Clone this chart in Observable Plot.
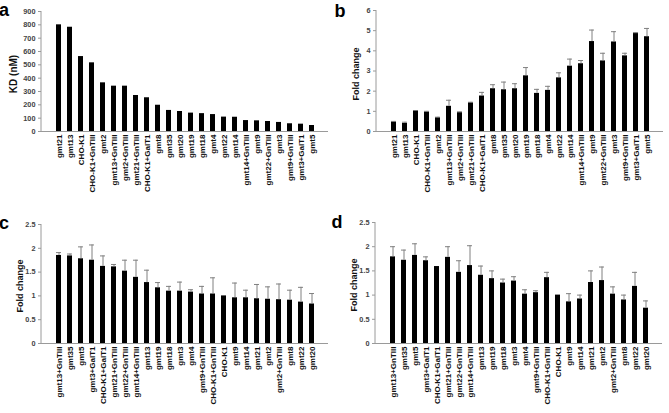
<!DOCTYPE html>
<html><head><meta charset="utf-8">
<script src="https://cdn.jsdelivr.net/npm/d3@7"></script>
<script src="https://cdn.jsdelivr.net/npm/@observablehq/plot@0.6"></script>
<style>
body{margin:0;background:#fff;}
#wrap{position:relative;width:669px;height:413px;overflow:hidden;font-family:"Liberation Sans",Arial,sans-serif;}
.panel{position:absolute;}
</style></head><body><div id="wrap"></div>
<script>
// Panel a: KD (nM)
const catsA = ["gmt21","gmt13","CHO-K1","CHO-K1+GnTIII","gmt2","gmt13+GnTIII","gmt2+GnTIII","gmt21+GnTIII","CHO-K1+GalT1","gmt8","gmt35","gmt20","gmt19","gmt18","gmt4","gmt22","gmt14","gmt14+GnTIII","gmt9","gmt22+GnTIII","gmt3","gmt9+GnTIII","gmt3+GalT1","gmt5"];
const kdA = [800,782,562,515,365,340,340,270,253,197,158,150,138,134,127,108,107,82,80,75,68,58,55,45];
const ticksA = [0,100,200,300,400,500,600,700,800,900];

// Panel b: fold change (same categories as a)
const catsB = catsA;
const foldB = [0.48,0.40,1.02,0.97,0.69,1.25,0.95,1.43,1.76,2.12,2.07,2.12,2.76,1.89,2.04,2.66,3.24,3.36,4.46,3.50,4.44,3.75,4.87,4.70];
const errB  = [0.02,0.06,0,0.03,0.02,0.30,0.02,0.02,0.18,0.20,0.38,0.25,0.41,0.20,0.20,0.25,0.35,0.16,0.57,0.38,0.51,0.13,0.03,0.41];
const ticksB = [0,1,2,3,4,5,6];

// Panels c and d
const catsCD = ["gmt13+GnTIII","gmt35","gmt5","gmt3+GalT1","CHO-K1+GalT1","gmt21+GnTIII","gmt22+GnTIII","gmt14+GnTIII","gmt13","gmt19","gmt18","gmt3","gmt4","gmt9+GnTIII","CHO-K1+GnTIII","CHO-K1","gmt9","gmt14","gmt21","gmt2","gmt2+GnTIII","gmt8","gmt22","gmt20"];
const foldC = [1.85,1.84,1.78,1.75,1.62,1.61,1.52,1.39,1.28,1.17,1.10,1.10,1.08,1.04,1.04,1.00,0.96,0.96,0.94,0.93,0.92,0.91,0.87,0.83];
const errC  = [0.06,0.04,0.25,0.32,0.22,0.05,0.23,0.36,0.26,0.11,0.10,0.19,0.05,0.16,0.34,0,0.31,0.16,0.30,0.26,0.33,0.21,0.31,0.22];
const foldD = [1.79,1.72,1.82,1.71,1.59,1.78,1.47,1.61,1.41,1.34,1.25,1.29,1.02,1.05,1.36,1.00,0.86,0.92,1.26,1.30,1.02,0.90,1.18,0.73];
const errD  = [0.21,0.21,0.24,0.08,0,0.22,0.24,0.41,0.19,0.16,0.08,0.09,0.09,0.04,0.11,0,0.17,0.08,0.24,0.28,0.15,0.10,0.29,0.15];
const ticksCD = [0,0.5,1,1.5,2,2.5];

const wrap = document.getElementById("wrap");

function panel(o) {
  const data = o.cats.map((c, i) => ({c, v: o.values[i], e: o.errs ? o.errs[i] : 0}));
  const marks = [
    Plot.barY(data, {x: "c", y: "v", fill: "#000"}),
    Plot.ruleY([0], {stroke: "#9a9a9a", strokeWidth: 1})
  ];
  if (o.errs) {
    const ed = data.filter(d => d.e > 0);
    marks.push(Plot.ruleX(ed, {x: "c", y1: "v", y2: d => d.v + d.e, stroke: "#808080", strokeWidth: 1}));
    marks.push(Plot.tickY(ed, {x: "c", y: d => d.v + d.e, stroke: "#808080", strokeWidth: 1}));
  }
  marks.push(Plot.axisY({ticks: o.ticks, tickFormat: d => String(d), tickSize: 3, tickPadding: 3, stroke: "#9a9a9a", fill: "#444", fontSize: 7.3, fontWeight: "bold"}));
  marks.push(Plot.axisX({tickRotate: -90, tickSize: 0, tickPadding: 3, fill: "#111", fontSize: 8, fontWeight: "bold"}));
  const svg = Plot.plot({
    width: o.width, height: o.height,
    marginTop: o.mt, marginBottom: o.mb, marginLeft: o.ml, marginRight: o.mr,
    style: {background: "#fff", fontFamily: "'Liberation Sans', Arial, sans-serif", overflow: "visible"},
    x: {domain: o.cats, paddingInner: 0.58, paddingOuter: 0.25, label: null},
    y: {domain: o.domain, label: null},
    marks
  });
  const s = d3.select(svg);
  // y axis line
  s.append("line").attr("x1", o.ml).attr("x2", o.ml).attr("y1", o.mt).attr("y2", o.height - o.mb)
    .attr("stroke", "#9a9a9a").attr("stroke-width", 1);
  // y label
  s.append("text").attr("transform", `translate(${o.lx},${o.ly}) rotate(-90)`)
    .attr("text-anchor", "middle").attr("dominant-baseline", "middle")
    .attr("font-weight", "bold").attr("font-size", o.lsize).attr("fill", "#111").text(o.label);
  // panel letter
  s.append("text").attr("x", o.px).attr("y", o.py).attr("font-weight", "bold")
    .attr("font-size", 18).attr("fill", "#000").text(o.letter);
  const div = document.createElement("div");
  div.className = "panel";
  div.style.left = o.left + "px";
  div.style.top = o.top + "px";
  div.appendChild(svg);
  wrap.appendChild(div);
}

panel({cats: catsA, values: kdA, errs: null, domain: [0, 900], ticks: ticksA,
  left: 0, top: 0, width: 335, height: 210, mt: 11, mb: 79, ml: 41, mr: 7,
  label: "KD (nM)", lx: 14, ly: 74, lsize: 10, letter: "a", px: 4, py: 16});
panel({cats: catsB, values: foldB, errs: errB, domain: [0, 6], ticks: ticksB,
  left: 335, top: 0, width: 334, height: 210, mt: 10, mb: 79, ml: 41, mr: 6,
  label: "Fold change", lx: 22, ly: 74, lsize: 9, letter: "b", px: 5, py: 17});
panel({cats: catsCD, values: foldC, errs: errC, domain: [0, 2.5], ticks: ticksCD,
  left: 0, top: 210, width: 335, height: 203, mt: 14, mb: 70, ml: 41, mr: 7,
  label: "Fold change", lx: 21, ly: 76, lsize: 9, letter: "c", px: 4, py: 19});
panel({cats: catsCD, values: foldD, errs: errD, domain: [0, 2.5], ticks: ticksCD,
  left: 335, top: 210, width: 334, height: 203, mt: 12, mb: 70, ml: 40, mr: 7,
  label: "Fold change", lx: 20, ly: 75, lsize: 9, letter: "d", px: 2, py: 18});
</script>
</body></html>
